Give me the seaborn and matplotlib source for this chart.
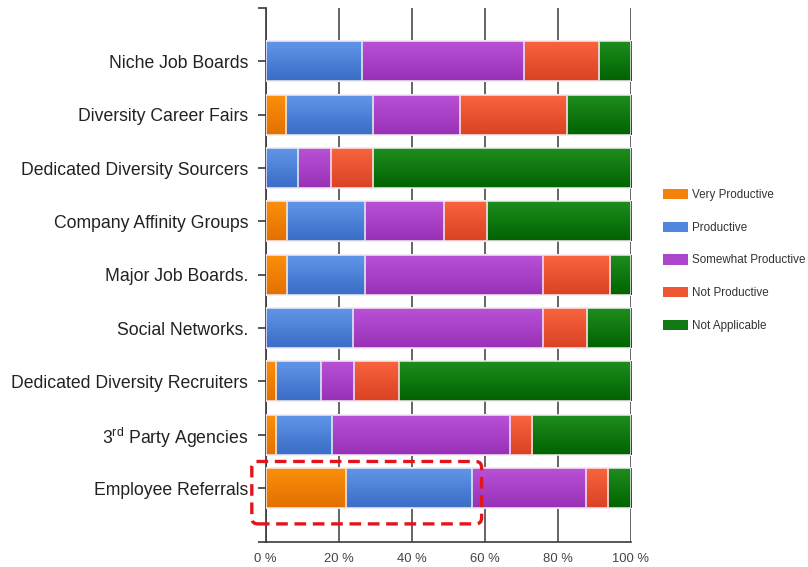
import numpy as np
import pandas as pd
import matplotlib
matplotlib.use("Agg")
import matplotlib.pyplot as plt
import seaborn as sns
from matplotlib.colors import LinearSegmentedColormap
from matplotlib.patches import Patch, FancyBboxPatch

# Survey results: share of respondents (%) per sourcing channel
categories = [
    "Niche Job Boards",
    "Diversity Career Fairs",
    "Dedicated Diversity Sourcers",
    "Company Affinity Groups",
    "Major Job Boards.",
    "Social Networks.",
    "Dedicated Diversity Recruiters",
    r"3$^{\mathrm{rd}}$ Party Agencies",
    "Employee Referrals",
]
very_productive = [0.0, 5.6, 0.0, 5.9, 5.9, 0.0, 2.9, 2.9, 22.0]
productive = [26.3, 23.7, 8.8, 21.3, 21.3, 24.0, 12.2, 15.3, 34.5]
somewhat_productive = [44.4, 23.8, 9.0, 21.5, 48.8, 52.0, 9.0, 48.6, 31.1]
not_productive = [20.5, 29.3, 11.7, 12.0, 18.2, 12.0, 12.3, 6.1, 6.2]
not_applicable = [8.8, 17.6, 70.5, 39.3, 5.8, 12.0, 63.6, 27.1, 6.2]

series_names = ["Very Productive", "Productive", "Somewhat Productive",
                "Not Productive", "Not Applicable"]
x_tick_values = [0, 20, 40, 60, 80, 100]
x_tick_labels = ["0 %", "20 %", "40 %", "60 %", "80 %", "100 %"]

# (top, bottom) gradient colours and the flat legend colour for each series
grad_colors = [
    ("#FC900C", "#E27000"),
    ("#6197EA", "#3A6DC6"),
    ("#BA52D8", "#9831B6"),
    ("#F9653F", "#DA4223"),
    ("#1F8E1F", "#006300"),
]
legend_colors = ["#F2820A", "#4F86DE", "#AA45CC", "#EE5634", "#137A13"]

sns.set_style("white")
plt.rcParams["font.family"] = ["Liberation Sans", "DejaVu Sans"]
plt.rcParams["mathtext.fontset"] = "custom"
plt.rcParams["mathtext.rm"] = "Liberation Sans"
plt.rcParams["mathtext.it"] = "Liberation Sans:italic"

fig = plt.figure(figsize=(8.08, 5.67), dpi=100)
ax = fig.add_axes([265.7 / 808, 1 - 541.5 / 567, (631 - 265.7) / 808, (541.5 - 8) / 567])

series = [very_productive, productive, somewhat_productive, not_productive, not_applicable]
cumulative = np.cumsum(np.array(series, dtype=float), axis=0)

# Stack by overlaying cumulative totals, longest first
for layer, idx in enumerate(range(len(series) - 1, -1, -1)):
    df = pd.DataFrame({"category": categories, "value": cumulative[idx]})
    n_before = len(ax.patches)
    sns.barplot(data=df, x="value", y="category", orient="y", order=categories,
                color=legend_colors[idx], saturation=1, width=0.75, ax=ax,
                edgecolor="#F3ECF3", linewidth=1.1)
    cmap = LinearSegmentedColormap.from_list("g%d" % idx, list(grad_colors[idx]))
    base_z = 3 + layer
    for p in ax.patches[n_before:]:
        w = p.get_width()
        p.set_zorder(base_z + 0.5)
        p.set_facecolor("none")
        if w <= 0:
            p.set_visible(False)
            continue
        x0, y0, h = p.get_x(), p.get_y(), p.get_height()
        im = ax.imshow(np.linspace(0, 1, 64).reshape(-1, 1), cmap=cmap, aspect="auto",
                       extent=(x0, x0 + w, y0 + h, y0), origin="upper",
                       interpolation="bilinear", zorder=base_z)
        im.set_clip_path(p)

ax.set_xlim(0, 100)
ax.set_ylim(len(categories), -1)

# Axes, ticks and grid
ax.set_xticks(x_tick_values)
ax.set_xticklabels(x_tick_labels)
ax.set_yticks(range(-1, len(categories) + 1))
ax.set_yticklabels([""] + categories + [""])
ax.set_xlabel("")
ax.set_ylabel("")
ax.grid(axis="x", color="#4a4a4a", linewidth=1.2, zorder=1)
ax.grid(axis="y", visible=False)
ax.set_axisbelow(True)
for side in ["top", "right"]:
    ax.spines[side].set_visible(False)
for side in ["left", "bottom"]:
    ax.spines[side].set_color("#3a3a3a")
    ax.spines[side].set_linewidth(1.2)
ax.tick_params(axis="y", which="major", length=6, width=1.2, color="#3a3a3a",
               pad=6.5, labelsize=12.7, labelcolor="#222222", left=True)
ax.tick_params(axis="x", which="major", length=0, pad=8, labelsize=9.4,
               labelcolor="#444444", bottom=True)

# Legend on the right
handles = [Patch(facecolor=c, edgecolor="none") for c in legend_colors]
fig.legend(handles, series_names, loc="upper left",
           bbox_to_anchor=(663 / 808, 1 - 189 / 567), frameon=False,
           fontsize=8.4, handlelength=2.15, handleheight=1.0, handletextpad=0.35,
           labelspacing=1.75, borderpad=0, borderaxespad=0, labelcolor="#333333")

# Dashed highlight around the Employee Referrals bar
corners = ax.transData.transform([(-3.8, 8.67), (59.1, 7.5)]) / fig.dpi
(bx0, by0), (bx1, by1) = corners
box = FancyBboxPatch((bx0, by0), bx1 - bx0, by1 - by0,
                     boxstyle="round,pad=0,rounding_size=0.06",
                     transform=fig.dpi_scale_trans, fill=False, edgecolor="#E3141C",
                     linewidth=2.4, linestyle=(0, (3.5, 2)), clip_on=False, zorder=20)
fig.add_artist(box)

fig.savefig("out.png", dpi=100)
